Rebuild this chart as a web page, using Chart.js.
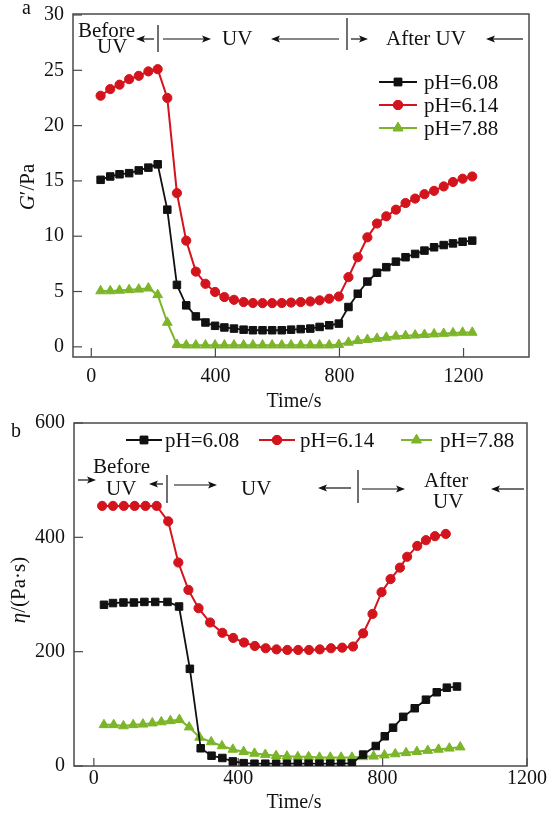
<!DOCTYPE html>
<html>
<head>
<meta charset="utf-8">
<script src="https://cdn.jsdelivr.net/npm/chart.js@4.4.1/dist/chart.umd.min.js"></script>
<style>
  html, body { margin: 0; padding: 0; background: #fff; }
  .panel { position: absolute; left: 0; width: 555px; }
  #panelA { top: 0; height: 410px; }
  #panelB { top: 410px; height: 408px; }
</style>
</head>
<body>
<div class="panel" id="panelA"><canvas id="chartA" width="555" height="410"></canvas></div>
<div class="panel" id="panelB"><canvas id="chartB" width="555" height="408"></canvas></div>
<script>
// ---- data ----
const seriesNames = ["pH=6.08", "pH=6.14", "pH=7.88"];

// panel a: storage modulus G' (Pa) vs time (s)
const timeA = [30, 61, 91, 122, 153, 184, 214, 245, 276, 306, 337, 368, 399, 429, 460, 491, 521, 552, 583, 614,
  644, 675, 706, 736, 767, 798, 829, 859, 890, 921, 951, 982, 1013, 1044, 1074, 1105, 1136, 1166, 1197, 1228];
const modulus608 = [15.1, 15.4, 15.6, 15.7, 15.95, 16.2, 16.5, 12.4, 5.6, 3.75, 2.75, 2.2, 1.9, 1.75, 1.65, 1.55, 1.5, 1.5, 1.5, 1.5,
  1.55, 1.6, 1.65, 1.8, 1.95, 2.1, 3.6, 4.8, 5.9, 6.7, 7.2, 7.7, 8.1, 8.4, 8.7, 9.0, 9.2, 9.35, 9.5, 9.6];
const modulus614 = [22.7, 23.3, 23.7, 24.2, 24.5, 24.9, 25.1, 22.5, 13.9, 9.6, 6.8, 5.7, 4.96, 4.5, 4.25, 4.05, 3.96, 3.95, 3.95, 3.96,
  4.0, 4.05, 4.1, 4.2, 4.35, 4.55, 6.3, 8.1, 9.9, 11.15, 11.8, 12.4, 13.0, 13.4, 13.8, 14.1, 14.5, 14.9, 15.2, 15.4];
const modulus788 = [5.05, 5.05, 5.1, 5.15, 5.2, 5.3, 4.7, 2.2, 0.2, 0.15, 0.15, 0.15, 0.15, 0.15, 0.15, 0.15, 0.15, 0.15, 0.15, 0.15,
  0.15, 0.15, 0.15, 0.15, 0.15, 0.2, 0.4, 0.55, 0.65, 0.75, 0.85, 0.95, 1.0, 1.05, 1.1, 1.15, 1.2, 1.25, 1.3, 1.3];

// panel b: viscosity eta (Pa·s) vs time (s)
const time608B = [28, 53, 82, 111, 140, 170, 204, 236, 266, 296, 326, 356, 385, 415, 445, 475, 505, 535, 565, 595,
  625, 655, 685, 715, 746, 781, 806, 829, 857, 889, 920, 950, 978, 1006];
const viscosity608 = [282, 285, 286, 286, 287, 287, 287, 279, 170, 31, 18, 14, 8, 5, 4, 4, 4, 4, 4, 4,
  4, 4, 4, 5, 20, 35, 52, 67, 86, 101, 116, 129, 137, 139];
const time614B = [23, 53, 83, 113, 143, 174, 206, 234, 262, 290, 322, 356, 386, 416, 446, 476, 506, 536, 566, 596,
  626, 657, 688, 718, 746, 772, 797, 822, 848, 868, 896, 920, 945, 975];
const viscosity614 = [455, 455, 455, 455, 455, 455, 428, 356, 308, 276, 251, 233, 224, 216, 210, 206, 204, 203, 203, 203,
  204, 206, 207, 209, 232, 266, 304, 327, 347, 366, 385, 395, 402, 406];
const time788B = [28, 55, 82, 109, 136, 162, 187, 212, 237, 264, 293, 325, 355, 385, 415, 445, 475, 505, 535, 565,
  595, 625, 655, 685, 715, 745, 775, 805, 835, 865, 895, 925, 955, 985, 1015];
const viscosity788 = [72, 72, 70, 72, 73, 75, 77, 79, 81, 68, 50, 42, 35, 29, 25, 22, 20, 18, 17, 16,
  16, 15, 15, 15, 15, 16, 17, 19, 21, 23, 25, 27, 29, 31, 33];

const xTicksA = [0, 400, 800, 1200];
const yTicksA = [0, 5, 10, 15, 20, 25, 30];
const xTicksB = [0, 400, 800, 1200];
const yTicksB = [0, 200, 400, 600];

// ---- styles ----
const SERIF = "'Liberation Serif', 'Times New Roman', serif";
const looks = [
  { color: "#111111", shape: "rect", radius: 5.3, width: 1.8 },
  { color: "#d3141c", shape: "circle", radius: 4.6, width: 2 },
  { color: "#7cb52a", shape: "triangle", radius: 5.6, width: 2 }
];

const pairs = (xs, ys) => xs.map((x, i) => ({ x, y: ys[i] }));

function makeSet(i, xs, ys) {
  const l = looks[i];
  return {
    label: seriesNames[i], data: pairs(xs, ys),
    borderColor: l.color, backgroundColor: l.color, borderWidth: l.width,
    pointStyle: l.shape, pointRadius: l.radius, pointBorderWidth: 1,
    pointBackgroundColor: l.color, pointBorderColor: l.color, tension: 0
  };
}

function axis(min, max, ticks, pad, size) {
  return {
    type: "linear", min, max,
    grid: { display: false, drawTicks: false }, border: { display: false },
    afterBuildTicks: (s) => { s.ticks = ticks.map((v) => ({ value: v })); },
    afterFit: (s) => {
      if (s.isHorizontal()) s.height = size; else s.width = size;
      s.paddingTop = 0; s.paddingBottom = 0; s.paddingLeft = 0; s.paddingRight = 0;
    },
    ticks: {
      padding: pad, color: "#111", autoSkip: false, maxRotation: 0,
      font: { family: SERIF, size: 20 }, callback: (v) => String(v)
    }
  };
}

function arrow(ctx, tail, tip, y) {
  const d = Math.sign(tip - tail);
  ctx.beginPath(); ctx.moveTo(tail, y); ctx.lineTo(tip - d * 6, y); ctx.stroke();
  ctx.beginPath(); ctx.moveTo(tip, y); ctx.lineTo(tip - d * 9, y - 3.5); ctx.lineTo(tip - d * 7, y); ctx.lineTo(tip - d * 9, y + 3.5);
  ctx.closePath(); ctx.fill();
}

function drawMarker(ctx, i, x, y) {
  const l = looks[i];
  Chart.helpers.drawPoint(ctx, { pointStyle: l.shape, radius: l.radius, borderWidth: 1 }, x, y);
  ctx.fill(); ctx.stroke();
}

function richText(ctx, parts, x, y, size) {
  // parts: [text, italic]
  let w = 0;
  parts.forEach(([t, it]) => { ctx.font = (it ? "italic " : "") + size + "px " + SERIF; w += ctx.measureText(t).width; });
  let cx = x - w / 2;
  ctx.textAlign = "left";
  parts.forEach(([t, it]) => { ctx.font = (it ? "italic " : "") + size + "px " + SERIF; ctx.fillText(t, cx, y); cx += ctx.measureText(t).width; });
}

// extra drawing: box, inward ticks, titles, phase notes, legend
// cfg coordinates are page pixels; dy moves them into this canvas
function decor(cfg) {
  const dy = cfg.dy;
  return {
    id: "decor" + cfg.name,
    beforeDatasetsDraw(chart) {
      const { ctx, chartArea: a } = chart;
      const sx = chart.scales.x, sy = chart.scales.y;
      ctx.save();
      ctx.strokeStyle = "#4a4a4a"; ctx.lineWidth = 1.5;
      ctx.strokeRect(a.left, a.top, a.right - a.left, a.bottom - a.top);
      ctx.lineWidth = 1.2;
      sx.ticks.forEach((t) => {
        const px = sx.getPixelForValue(t.value);
        ctx.beginPath(); ctx.moveTo(px, a.bottom); ctx.lineTo(px, a.bottom - cfg.tickLen); ctx.stroke();
      });
      sy.ticks.forEach((t) => {
        const py = sy.getPixelForValue(t.value);
        ctx.beginPath(); ctx.moveTo(a.left, py); ctx.lineTo(a.left + 9, py); ctx.stroke();
      });
      ctx.restore();
    },
    afterDatasetsDraw(chart) {
      const { ctx } = chart;
      ctx.save();
      ctx.translate(0, -dy);
      ctx.fillStyle = "#111"; ctx.strokeStyle = "#111";
      ctx.textBaseline = "alphabetic";
      // panel letter
      ctx.font = "20px " + SERIF; ctx.textAlign = "left";
      ctx.fillText(cfg.letter[0], cfg.letter[1], cfg.letter[2]);
      // x title
      ctx.textBaseline = "middle";
      richText(ctx, [["Time/s", false]], cfg.xTitle[0], cfg.xTitle[1], 20);
      // y title
      ctx.save();
      ctx.translate(cfg.yTitle[0], cfg.yTitle[1]); ctx.rotate(-Math.PI / 2);
      richText(ctx, cfg.yTitleParts, 0, 0, 21);
      ctx.restore();
      // phase notes
      ctx.textBaseline = "alphabetic";
      ctx.font = "21px " + SERIF;
      cfg.texts.forEach(([t, x, y]) => { ctx.textAlign = "left"; ctx.fillText(t, x, y); });
      ctx.lineWidth = 1.2;
      cfg.arrows.forEach(([a, b, y]) => arrow(ctx, a, b, y));
      cfg.vlines.forEach(([x, y1, y2]) => { ctx.beginPath(); ctx.moveTo(x, y1); ctx.lineTo(x, y2); ctx.stroke(); });
      // legend
      ctx.textBaseline = "middle"; ctx.textAlign = "left"; ctx.font = "21px " + SERIF;
      cfg.legend.forEach(([x1, x2, tx, y], i) => {
        const l = looks[i];
        ctx.strokeStyle = l.color; ctx.fillStyle = l.color; ctx.lineWidth = l.width;
        ctx.beginPath(); ctx.moveTo(x1, y); ctx.lineTo(x2, y); ctx.stroke();
        ctx.lineWidth = 1;
        drawMarker(ctx, i, (x1 + x2) / 2, y);
        ctx.fillStyle = "#111";
        ctx.fillText(seriesNames[i], tx, y + 1);
      });
      ctx.restore();
    }
  };
}

function buildChart(id, sets, xs, ys, padding, cfg) {
  return new Chart(document.getElementById(id), {
    type: "line",
    data: { datasets: sets },
    options: {
      responsive: false, animation: false, events: [],
      layout: { padding },
      plugins: { legend: { display: false }, tooltip: { enabled: false } },
      scales: { x: xs, y: ys }
    },
    plugins: [decor(cfg)]
  });
}

buildChart("chartA",
  [makeSet(0, timeA, modulus608), makeSet(1, timeA, modulus614), makeSet(2, timeA, modulus788)],
  axis(-59, 1411, xTicksA, 8, 53), axis(-0.92, 30.09, yTicksA, 9, 73),
  { left: 0, top: 14, right: 26, bottom: 0 },
  {
    name: "A", dy: 0, tickLen: 9, letter: ["a", 22, 14], xTitle: [294, 402], yTitle: [28, 187],
    yTitleParts: [["G", true], ["′/Pa", false]],
    texts: [["Before", 78, 37], ["UV", 97, 53], ["UV", 222, 45], ["After UV", 386, 45]],
    arrows: [[154, 136, 39], [163, 211, 39], [339, 271, 39], [351, 368, 39], [523, 486, 39]],
    vlines: [[158, 25, 52], [347, 18, 50]],
    legend: [[379, 417, 424, 82], [379, 417, 424, 105], [379, 417, 424, 128]]
  });

buildChart("chartB",
  [makeSet(0, time608B, viscosity608), makeSet(1, time614B, viscosity614), makeSet(2, time788B, viscosity788)],
  axis(-55, 1200, xTicksB, 1, 52), axis(0, 600, yTicksB, 9, 74),
  { left: 0, top: 13, right: 28, bottom: 0 },
  {
    name: "B", dy: 410, tickLen: 8, letter: ["b", 11, 437], xTitle: [294, 803], yTitle: [19, 590],
    yTitleParts: [["η", true], ["/(Pa·s)", false]],
    texts: [["Before", 93, 473], ["UV", 106, 495], ["UV", 241, 495], ["After", 424, 487], ["UV", 433, 508]],
    arrows: [[78, 96, 480], [163, 149, 484], [174, 217, 485], [351, 318, 488], [362, 405, 489], [524, 491, 489]],
    vlines: [[167, 475, 503], [358, 470, 503]],
    legend: [[126, 162, 165, 440], [259, 295, 300, 440], [401, 432, 440, 440]]
  });
</script>
</body>
</html>
